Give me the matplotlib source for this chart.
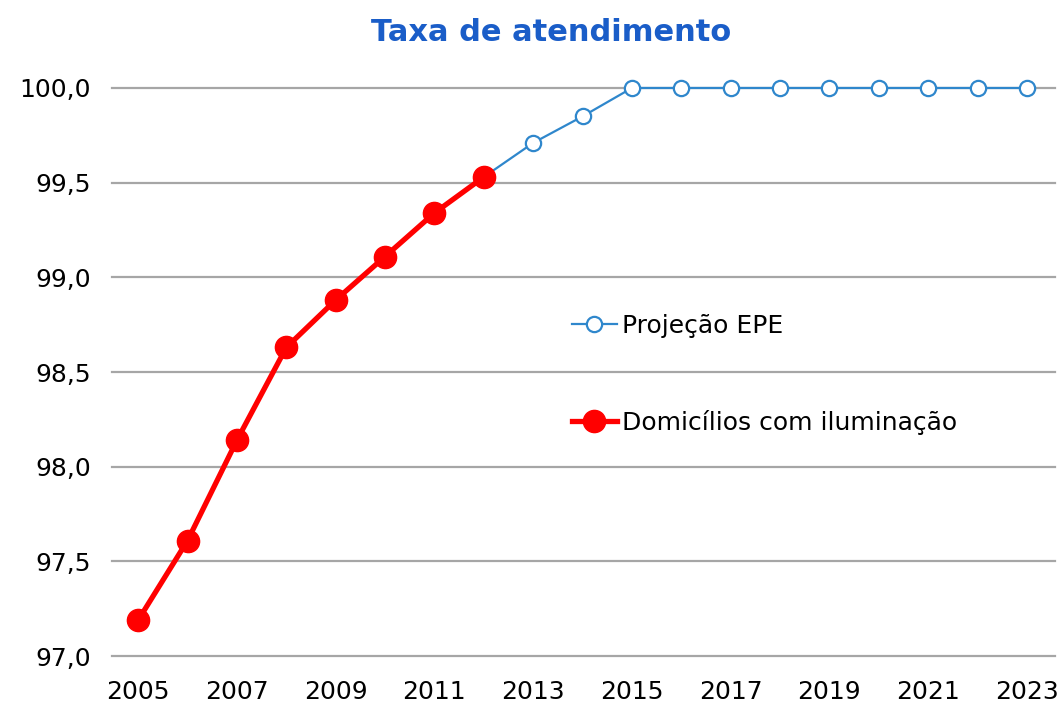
import matplotlib.pyplot as plt

# data
years_hist = [2005, 2006, 2007, 2008, 2009, 2010, 2011, 2012]
rate_hist = [97.19, 97.61, 98.14, 98.63, 98.88, 99.11, 99.34, 99.53]

years_proj = [2012, 2013, 2014, 2015, 2016, 2017, 2018, 2019, 2020, 2021, 2022, 2023]
rate_proj = [99.53, 99.71, 99.85, 100.0, 100.0, 100.0, 100.0, 100.0, 100.0, 100.0, 100.0, 100.0]

xticks = list(range(2005, 2024, 2))
yticks = [97.0, 97.5, 98.0, 98.5, 99.0, 99.5, 100.0]

plt.rcParams['font.family'] = ['DejaVu Sans']

fig = plt.figure(figsize=(10.6, 7.13), dpi=100)
ax = fig.add_axes([0.1057, 0.0799, 0.8896, 0.7967])

ax.plot(years_proj, rate_proj, color='#2F87CC', lw=1.6, marker='o', ms=11,
        mfc='white', mec='#2F87CC', mew=1.6, label='Projeção EPE', clip_on=False, zorder=3)
ax.plot(years_hist, rate_hist, color='#FF0000', lw=3.8, marker='o', ms=16,
        mfc='#FF0000', mec='#FF0000', label='Domicílios com iluminação', clip_on=False, zorder=4)

ax.set_xlim(2004.47, 2023.57)
ax.set_ylim(97.0, 100.0)
ax.set_xticks(xticks)
ax.set_yticks(yticks)
ax.set_yticklabels([f'{v:.1f}'.replace('.', ',') for v in yticks])
ax.tick_params(length=0, labelsize=18)
ax.tick_params(axis='y', pad=15)
ax.tick_params(axis='x', pad=17)

ax.grid(axis='y', color='#A6A6A6', lw=1.6)
for gl in ax.get_ygridlines():
    gl.set_clip_on(False)
ax.set_axisbelow(True)
for s in ax.spines.values():
    s.set_visible(False)

fig.text(0.52, 0.955, 'Taxa de atendimento', ha='center', va='center',
         fontsize=22, fontweight='bold', color='#1A5DC8')

fig.legend(loc='center left', bbox_to_anchor=(0.5396, 0.4748), frameon=False,
           fontsize=18, labelspacing=2.9, handlelength=1.8, handletextpad=0.2,
           borderpad=0, borderaxespad=0)

fig.savefig('out.png', dpi=100)
